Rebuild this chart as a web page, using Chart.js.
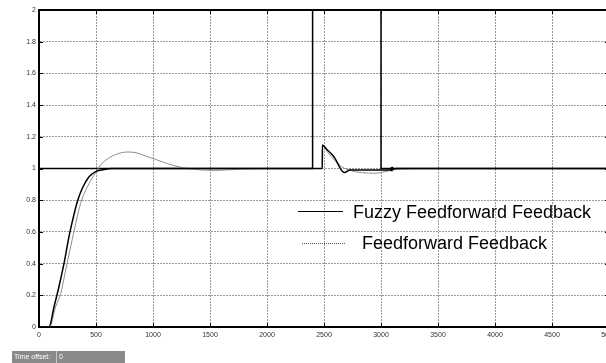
<!DOCTYPE html>
<html>
<head>
<meta charset="utf-8">
<script src="https://cdn.jsdelivr.net/npm/chart.js@4"></script>
<style>
  html, body { margin: 0; padding: 0; background: #fff; }
  body { width: 606px; height: 363px; overflow: hidden; position: relative; }
  #wrap { position: absolute; left: 0; top: 0; width: 630px; height: 363px; }
  #offset {
    position: absolute; left: 12px; top: 351px; width: 113px; height: 12px;
    background: #8a8a8a; font: 7px "Liberation Sans", Arial, sans-serif; color: #fff;
  }
  #offset .lbl { position: absolute; left: 2px; top: 2px; }
  #offset .val { position: absolute; left: 44px; top: 0; width: 69px; height: 12px; border-left: 1px solid #c8c8c8; }
  #offset .val span { position: absolute; left: 2px; top: 2px; }
</style>
</head>
<body>
<div id="wrap"><canvas id="chart" width="630" height="363"></canvas></div>
<div id="offset"><span class="lbl">Time offset:</span><div class="val"><span>0</span></div></div>
<script>
// fuzzy feedforward feedback response (black)
var fuzzyTime  = [0, 88, 132, 175, 219, 263, 292, 336, 380, 439, 497, 585, 630, 1000, 2000, 2485, 2486, 2523, 2582, 2595, 2678, 2728, 2850, 3000, 3085, 3090, 3096, 3101, 3108, 3130, 3200, 5000];
var fuzzyValue = [0, 0, 0.128, 0.254, 0.40, 0.57, 0.665, 0.79, 0.875, 0.948, 0.98, 0.995, 1.0, 1.0, 1.0, 1.0, 1.148, 1.121, 1.079, 1.065, 0.974, 0.99, 0.99, 0.99, 0.99, 1.006, 0.984, 1.008, 0.995, 1.0, 1.0, 1.0];

// feedforward feedback response (gray)
var ffTime  = [0, 94, 146, 190, 234, 278, 322, 365, 424, 482, 541, 600, 680, 772, 850, 930, 1035, 1130, 1219, 1300, 1400, 1550, 1740, 2000, 2485, 2486, 2538, 2596, 2655, 2743, 2830, 2947, 3035, 3094, 3200, 3350, 5000];
var ffValue = [0, 0, 0.128, 0.21, 0.36, 0.507, 0.654, 0.78, 0.885, 0.957, 1.022, 1.06, 1.09, 1.104, 1.1, 1.08, 1.054, 1.03, 1.012, 1.0, 0.992, 0.988, 0.995, 1.0, 1.0, 1.148, 1.096, 1.05, 1.011, 0.986, 0.974, 0.97, 0.98, 0.99, 0.997, 1.0, 1.0];

// setpoint / disturbance signal
var refTime  = [0, 2400, 2400, 3000, 3000, 5000];
var refValue = [1, 1, 2.5, 2.5, 1, 1];

var xTicks = [0, 500, 1000, 1500, 2000, 2500, 3000, 3500, 4000, 4500, 5000];
var yTicks = [0, 0.2, 0.4, 0.6, 0.8, 1, 1.2, 1.4, 1.6, 1.8, 2];

var legendLabels = ['Fuzzy Feedforward Feedback', 'Feedforward Feedback'];

function pts(xs, ys) {
  return xs.map(function(x, i) { return { x: x, y: ys[i] }; });
}

// draws inward tick marks, the top frame line and the in-plot legend
var framePlugin = {
  id: 'frame',
  afterDraw: function(chart) {
    var ctx = chart.ctx, a = chart.chartArea;
    var xs = chart.scales.x, ys = chart.scales.y;
    ctx.save();
    ctx.strokeStyle = '#000';
    ctx.lineWidth = 2;
    ctx.beginPath();
    ctx.moveTo(a.left - 1, a.top);
    ctx.lineTo(a.right, a.top);
    ctx.stroke();
    ctx.lineWidth = 1;
    ctx.beginPath();
    xTicks.forEach(function(v) {
      var px = Math.round(xs.getPixelForValue(v)) + 0.5;
      ctx.moveTo(px, a.bottom); ctx.lineTo(px, a.bottom - 4);
      ctx.moveTo(px, a.top); ctx.lineTo(px, a.top + 4);
    });
    yTicks.forEach(function(v) {
      var py = Math.round(ys.getPixelForValue(v)) + 0.5;
      ctx.moveTo(a.left, py); ctx.lineTo(a.left + 4, py);
      ctx.moveTo(a.right, py); ctx.lineTo(a.right - 4, py);
    });
    ctx.stroke();

    // legend
    ctx.font = '18px "Liberation Sans", Arial, sans-serif';
    ctx.fillStyle = '#000';
    ctx.textBaseline = 'alphabetic';
    ctx.strokeStyle = '#000';
    ctx.lineWidth = 1.2;
    ctx.beginPath();
    ctx.moveTo(298, 211.5); ctx.lineTo(343, 211.5);
    ctx.stroke();
    ctx.fillText(legendLabels[0], 353, 218);
    ctx.strokeStyle = '#555';
    ctx.lineWidth = 1;
    ctx.setLineDash([1, 1]);
    ctx.beginPath();
    ctx.moveTo(302, 243.5); ctx.lineTo(345, 243.5);
    ctx.stroke();
    ctx.setLineDash([]);
    ctx.fillText(legendLabels[1], 362, 249);
    ctx.restore();
  }
};

var tickFont = { family: '"Liberation Sans", Arial, sans-serif', size: 7 };

new Chart(document.getElementById('chart'), {
  type: 'line',
  data: {
    datasets: [
      {
        label: legendLabels[0],
        data: pts(fuzzyTime, fuzzyValue),
        borderColor: '#000',
        borderWidth: 1.5,
        pointRadius: 0,
        cubicInterpolationMode: 'monotone'
      },
      {
        label: legendLabels[1],
        data: pts(ffTime, ffValue),
        borderColor: '#8c8c8c',
        borderWidth: 1,
        pointRadius: 0,
        cubicInterpolationMode: 'monotone'
      },
      {
        label: 'setpoint',
        data: pts(refTime, refValue),
        borderColor: '#000',
        borderWidth: 1.5,
        pointRadius: 0,
        tension: 0
      }
    ]
  },
  options: {
    responsive: false,
    animation: false,
    devicePixelRatio: 1,
    layout: { padding: { top: 10, right: 21, left: 0, bottom: 0 } },
    plugins: { legend: { display: false }, tooltip: { enabled: false } },
    scales: {
      x: {
        type: 'linear',
        min: 0,
        max: 5000,
        afterBuildTicks: function(s) { s.ticks = xTicks.map(function(v) { return { value: v }; }); },
        afterFit: function(s) { s.height = 36; },
        grid: { color: '#9a9a9a', lineWidth: 1, drawTicks: false },
        border: { color: '#000', width: 2, dash: [2, 1] },
        ticks: {
          color: '#333', font: tickFont, padding: 4, maxRotation: 0, autoSkip: false,
          callback: function(v) { return String(v); }
        }
      },
      y: {
        min: 0,
        max: 2,
        afterBuildTicks: function(s) { s.ticks = yTicks.map(function(v) { return { value: v }; }); },
        afterFit: function(s) { s.width = 39; },
        grid: { color: '#9a9a9a', lineWidth: 1, drawTicks: false },
        border: { color: '#000', width: 2, dash: [2, 1] },
        ticks: {
          color: '#333', font: tickFont, padding: 3, autoSkip: false,
          callback: function(v) { return String(+v.toFixed(1)); }
        }
      }
    }
  },
  plugins: [framePlugin]
});
</script>
</body>
</html>
